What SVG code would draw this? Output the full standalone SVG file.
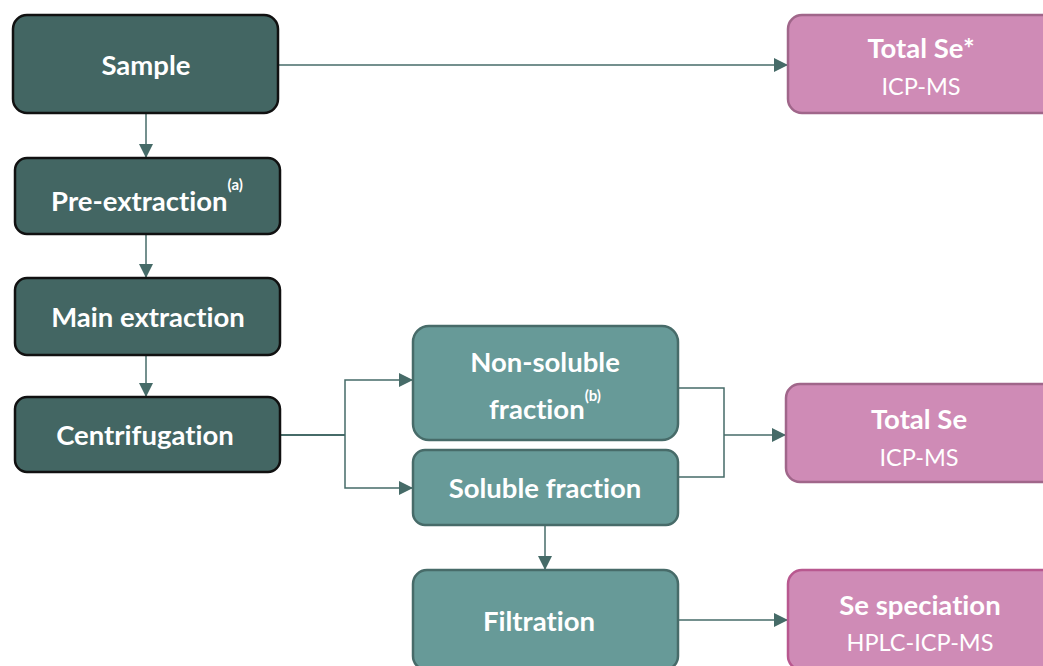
<svg xmlns="http://www.w3.org/2000/svg" width="1043" height="666" viewBox="0 0 1043 666">
<style>
.dk{fill:#436663;stroke:#111;stroke-width:2.5}
.lt{fill:#679a98;stroke:#476b69;stroke-width:2.5}
.pk{fill:#cf8bb6;stroke:#a0668a;stroke-width:2.5}
.t{font-family:Lato,"Open Sans",sans-serif;font-weight:bold;fill:#fff;text-anchor:middle;font-size:27.5px;font-variant-ligatures:none}
.s{font-family:Lato,"Open Sans",sans-serif;fill:#fff;text-anchor:middle;font-size:23.5px}
.sup{font-size:15px}
.c{fill:none;stroke:#466b68;stroke-width:1.5}
</style>
<defs>
<marker id="a" viewBox="0 0 10 10" refX="10" refY="5" markerWidth="14" markerHeight="14" markerUnits="userSpaceOnUse" orient="auto"><path d="M0,0L10,5L0,10z" fill="#466b68"/></marker>
</defs>
<g id="connectors">
<path class="c" d="M278,65H788" marker-end="url(#a)"/>
<path class="c" d="M146,113V158" marker-end="url(#a)"/>
<path class="c" d="M146,234V278" marker-end="url(#a)"/>
<path class="c" d="M146,355V397" marker-end="url(#a)"/>
<path class="c" d="M280,435H345" style="stroke-width:2"/>
<path class="c" d="M345,435V380H413" marker-end="url(#a)"/>
<path class="c" d="M345,435V488H413" marker-end="url(#a)"/>
<path class="c" d="M678,388H724V477H678"/>
<path class="c" d="M724,435H786" marker-end="url(#a)"/>
<path class="c" d="M545,525V570" marker-end="url(#a)"/>
<path class="c" d="M678,620H788" marker-end="url(#a)"/>
</g>
<g id="sample"><rect class="dk" x="13" y="15" width="265" height="98" rx="14"/><text class="t" x="146" y="75">Sample</text></g>
<g id="preextraction"><rect class="dk" x="15" y="158" width="265" height="76" rx="12"/><text class="t" x="147" y="211">Pre-extraction<tspan class="sup" dy="-21">(a)</tspan></text></g>
<g id="mainextraction"><rect class="dk" x="15" y="278" width="265" height="77" rx="12"/><text class="t" x="148" y="327">Main extraction</text></g>
<g id="centrifugation"><rect class="dk" x="15" y="397" width="265" height="75" rx="12"/><text class="t" x="145" y="445">Centrifugation</text></g>
<g id="nonsoluble"><rect class="lt" x="413" y="326" width="265" height="114" rx="16"/><text class="t" x="545" y="372">Non-soluble</text><text class="t" x="545" y="419">fraction<tspan class="sup" dy="-18">(b)</tspan></text></g>
<g id="soluble"><rect class="lt" x="413" y="450" width="265" height="75" rx="12"/><text class="t" x="545" y="498">Soluble fraction</text></g>
<g id="filtration"><rect class="lt" x="413" y="570" width="265" height="100" rx="14"/><text class="t" x="539" y="631">Filtration</text></g>
<g id="totalse1"><rect class="pk" x="788" y="15" width="270" height="98" rx="14"/><text class="t" x="921" y="58">Total Se*</text><text class="s" x="921" y="95">ICP-MS</text></g>
<g id="totalse2"><rect class="pk" x="786" y="384" width="272" height="98" rx="14"/><text class="t" x="919" y="429">Total Se</text><text class="s" x="919" y="466">ICP-MS</text></g>
<g id="speciation"><rect class="pk" x="788" y="570" width="270" height="100" rx="14" style="stroke:#b8588f"/><text class="t" x="920" y="615">Se speciation</text><text class="s" x="920" y="651">HPLC-ICP-MS</text></g>
</svg>
